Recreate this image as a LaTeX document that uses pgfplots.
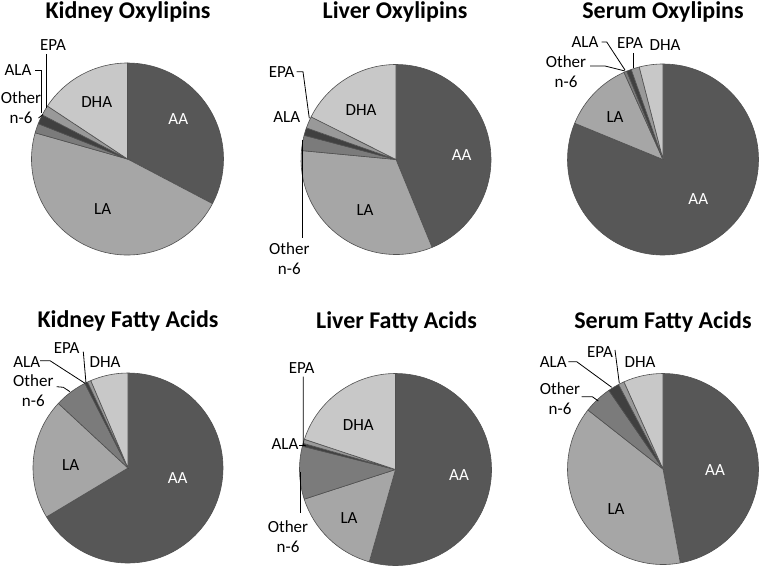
\documentclass[border=0pt]{standalone}
\usepackage{fontspec}
\setmainfont{Carlito}
\usepackage{pgfplots}
\usepackage{pgfplotstable}
\pgfplotsset{compat=1.18}

\definecolor{cAA}{HTML}{575757}
\definecolor{cLA}{HTML}{A6A6A6}
\definecolor{cOn6}{HTML}{7B7B7B}
\definecolor{cALA}{HTML}{404040}
\definecolor{cEPA}{HTML}{999999}
\definecolor{cDHA}{HTML}{C8C8C8}
\definecolor{edge}{HTML}{505050}

% share of each fatty acid (percent); pie centre and radius in pixels
\pgfplotstableread{
cx    cy    r     AA    LA    On6  ALA  EPA  DHA
127.5 159.0 96.0  32.7  46.7  1.6  1.6  1.7  15.7
396.0 159.5 95.0  43.8  32.7  2.6  1.3  2.0  17.6
663.0 159.5 95.5  81.2  12.1  0.5  0.8  1.4  4.0
128.0 468.0 95.0  66.4  20.5  5.6  0.5  0.6  6.4
395.5 469.5 96.0  54.4  15.6  8.9  0.5  0.7  19.9
663.0 469.0 95.5  47.1  38.5  4.8  1.9  1.0  6.7
}\pies

\pgfplotsset{
  pie slice/.style n args={3}{
    scatter, only marks, mark=*, mark size=0pt,
    mark options={draw=none, fill=none},
    visualization depends on={#2 \as \ps},
    visualization depends on={#3 \as \pe},
    visualization depends on={\thisrow{r} \as \pr},
    scatter/@pre marker code/.code={%
      \pgfmathsetmacro\aS{90-3.6*\ps}%
      \pgfmathsetmacro\aE{90-3.6*\pe}%
      \filldraw[fill=#1, draw=edge, line width=0.6bp, line join=round]
        (0,0) -- (\aS:\pr bp) arc[start angle=\aS, end angle=\aE, radius=\pr bp] -- cycle;
    },
    scatter/@post marker code/.code={},
  },
}

\newcommand\lab{\fontsize{17bp}{20bp}\selectfont}
\newcommand\ttl{\fontsize{24bp}{28bp}\selectfont\bfseries}
\tikzset{
  lead/.style={draw=black, line width=0.8bp},
  lbl/.style={inner sep=0pt, font=\lab, align=center},
}

\begin{document}
\begin{tikzpicture}
\path[use as bounding box] (0,0) rectangle (762bp,567bp);
\begin{axis}[
    at={(0,0)}, anchor=south west,
    width=762bp, height=567bp, scale only axis,
    xmin=0, xmax=762, ymin=0, ymax=567,
    y dir=reverse, hide axis, clip=false,
]
\addplot[pie slice={cAA}{0}{\thisrow{AA}}] table[x=cx, y=cy] {\pies};
\addplot[pie slice={cLA}{\thisrow{AA}}{\thisrow{AA}+\thisrow{LA}}] table[x=cx, y=cy] {\pies};
\addplot[pie slice={cOn6}{\thisrow{AA}+\thisrow{LA}}{\thisrow{AA}+\thisrow{LA}+\thisrow{On6}}] table[x=cx, y=cy] {\pies};
\addplot[pie slice={cALA}{\thisrow{AA}+\thisrow{LA}+\thisrow{On6}}{\thisrow{AA}+\thisrow{LA}+\thisrow{On6}+\thisrow{ALA}}] table[x=cx, y=cy] {\pies};
\addplot[pie slice={cEPA}{\thisrow{AA}+\thisrow{LA}+\thisrow{On6}+\thisrow{ALA}}{100-\thisrow{DHA}}] table[x=cx, y=cy] {\pies};
\addplot[pie slice={cDHA}{100-\thisrow{DHA}}{100}] table[x=cx, y=cy] {\pies};
\end{axis}

% labels on top of the pies, in the same pixel frame
\begin{scope}[x=1bp, y=-1bp, shift={(0,567bp)}]
% titles
\node[lbl, font=\ttl] at (128,12) {Kidney Oxylipins};
\node[lbl, font=\ttl] at (395,12) {Liver Oxylipins};
\node[lbl, font=\ttl] at (663,12) {Serum Oxylipins};
\node[lbl, font=\ttl] at (128,321) {Kidney Fatty Acids};
\node[lbl, font=\ttl] at (396.5,322) {Liver Fatty Acids};
\node[lbl, font=\ttl] at (663,322) {Serum Fatty Acids};

% slice labels inside
\node[lbl] at (96.7,101.7) {DHA};
\node[lbl, text=white] at (178.3,119.3) {AA};
\node[lbl] at (102.7,209.3) {LA};
\node[lbl] at (361,110) {DHA};
\node[lbl, text=white] at (461.7,155) {AA};
\node[lbl] at (365,210) {LA};
\node[lbl] at (615,116.7) {LA};
\node[lbl, text=white] at (698.3,199.3) {AA};
\node[lbl] at (70.7,465) {LA};
\node[lbl, text=white] at (177.7,478.3) {AA};
\node[lbl] at (358.3,425) {DHA};
\node[lbl, text=white] at (459,475) {AA};
\node[lbl] at (349,518.3) {LA};
\node[lbl, text=white] at (715,470) {AA};
\node[lbl] at (616,509.3) {LA};

% kidney oxylipins callouts
\node[lbl] at (53,45) {EPA};
\draw[lead] (46.7,54) -- (46.7,108.5);
\node[lbl] at (18,70) {ALA};
\draw[lead] (35,70) -- (41.7,70) -- (41.7,113);
\node[lbl] at (21,107.5) {Other\\n-6};
\draw[lead] (38.5,118) -- (43,114.5);

% liver oxylipins callouts
\node[lbl] at (281.7,71.7) {EPA};
\draw[lead] (296.7,71.7) -- (303,71.7) -- (309.3,118.3);
\node[lbl] at (286.7,116.7) {ALA};
\node[lbl] at (289.3,258.3) {Other\\n-6};
\draw[lead] (302.3,140) -- (302.3,238);

% serum oxylipins callouts
\node[lbl] at (585,41.7) {ALA};
\draw[lead] (601.7,42) -- (606.7,42) -- (625,70);
\node[lbl] at (630,43.3) {EPA};
\draw[lead] (633.3,53) -- (633.3,68);
\node[lbl] at (665,45) {DHA};
\node[lbl] at (566,71.7) {Other\\n-6};
\draw[lead] (590,66) -- (605,66) -- (625,71);

% kidney fatty acids callouts
\node[lbl] at (66.7,348.3) {EPA};
\draw[lead] (83.3,351.7) -- (86,383.3);
\node[lbl] at (26.7,361.7) {ALA};
\draw[lead] (40,360.7) -- (50,360.7) -- (85,383.3);
\node[lbl] at (105,361.7) {DHA};
\node[lbl] at (33.3,390.5) {Other\\n-6};
\draw[lead] (56.7,386.7) -- (63.3,387.3) -- (70,391.7);

% liver fatty acids callouts
\node[lbl] at (301.7,368.3) {EPA};
\draw[lead] (303.3,376.7) -- (303.3,445) -- (306,446);
\node[lbl] at (285,444) {ALA};
\draw[lead] (299.3,445) -- (304,445);
\node[lbl] at (288,536.7) {Other\\n-6};
\draw[lead] (300,471.7) -- (300,513.3);

% serum fatty acids callouts
\node[lbl] at (600,351.7) {EPA};
\draw[lead] (615,350) -- (619.3,383.3);
\node[lbl] at (553.3,361.7) {ALA};
\draw[lead] (568.3,361.7) -- (576.7,361.7) -- (611.7,387.3);
\node[lbl] at (640,361.7) {DHA};
\node[lbl] at (560,398.3) {Other\\n-6};
\draw[lead] (581.7,396.7) -- (592.3,396.7) -- (598.3,401);
\end{scope}
\end{tikzpicture}
\end{document}
